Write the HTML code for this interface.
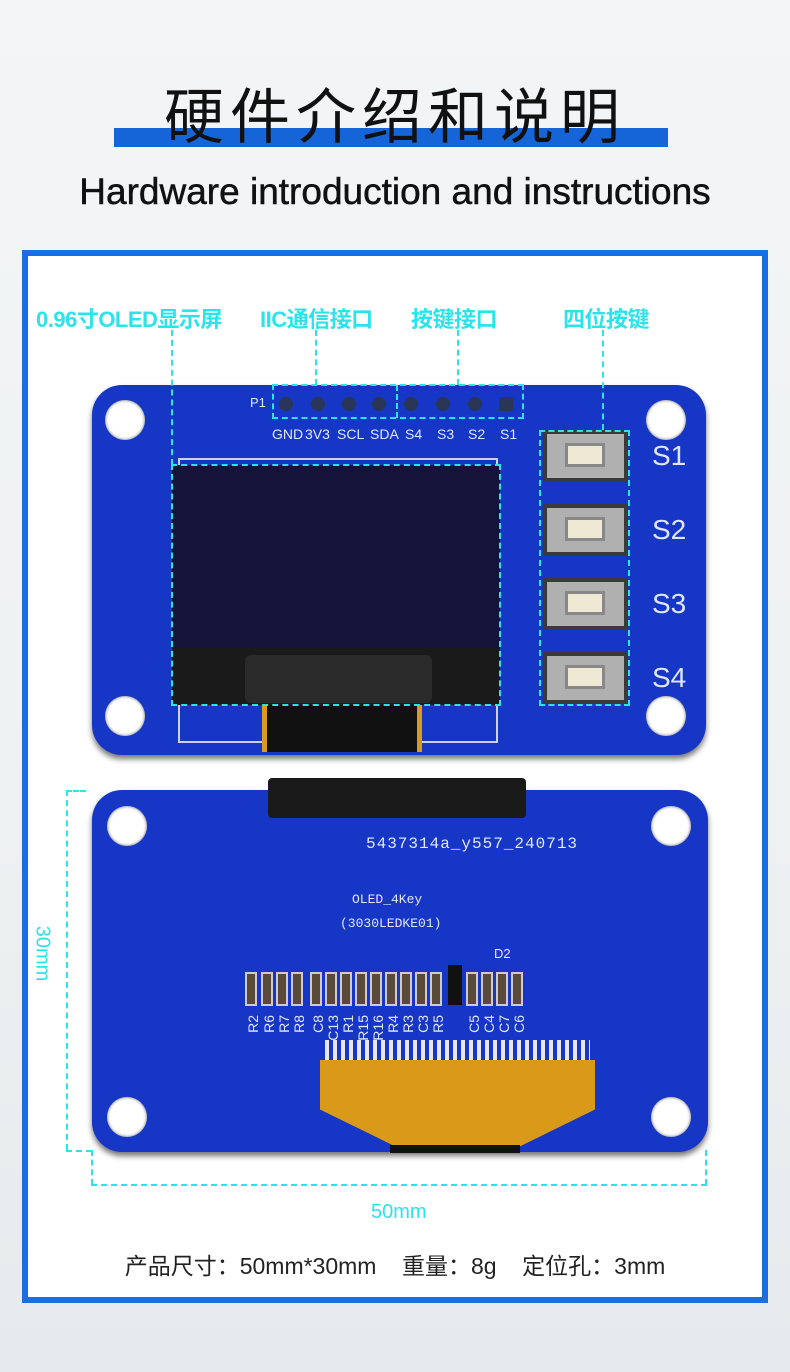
<!DOCTYPE html>
<html><head><meta charset="utf-8"><style>
*{margin:0;padding:0;box-sizing:border-box}
body{width:790px;height:1372px;position:relative;overflow:hidden;background:linear-gradient(180deg,#f3f5f6 0%,#eef1f2 60%,#e6eaec 100%);font-family:"Liberation Sans","Noto Sans CJK SC",sans-serif}
.a{position:absolute}
.cy{color:#2be3ea;font-weight:bold;font-size:22px;white-space:nowrap;letter-spacing:-0.5px}
.dv{position:absolute;border-left:2px dashed #2be3ea;width:0}
.dh{position:absolute;border-top:2px dashed #2be3ea;height:0}
.db{position:absolute;border:2px dashed #2be3ea}
.hole{position:absolute;width:40px;height:40px;border-radius:50%;background:#fff;box-shadow:inset 0 0 3px #666}
.pin{position:absolute;width:14px;height:14px;border-radius:50%;background:#2a3658;top:397px}
.btn{position:absolute;left:543px;width:85px;height:52px;background:#b0b0b0;border:4px solid #3a3a3a;border-radius:3px}
.btn i{position:absolute;left:18px;top:9px;width:40px;height:24px;background:#efe8d4;border:3px solid #888}
.sl{position:absolute;left:652px;color:#dfe6ff;font-size:28px}
.pl{position:absolute;top:426px;color:#e3e8ff;font-size:14px}
.cmp{position:absolute;top:972px;width:12px;height:34px;background:#5a4a3a;border:2px solid #ccc}
.lab{position:absolute;top:1015px;color:#e3e8ff;font-size:14px;writing-mode:vertical-rl;transform:rotate(180deg)}
</style></head><body>
<div class="a" style="left:114px;top:128px;width:554px;height:19px;background:#1565d8"></div>
<div class="a" style="left:0;top:78px;width:790px;text-align:center;font-size:60px;color:#111;letter-spacing:6px;font-family:'Noto Sans CJK SC',sans-serif;line-height:70px">硬件介绍和说明</div>
<div class="a" style="left:0;top:171px;width:790px;text-align:center;font-size:37px;color:#111;-webkit-text-stroke:0.5px #111">Hardware introduction and instructions</div>
<div class="a" style="left:22px;top:250px;width:746px;height:1053px;border:6px solid #1a6fe0;background:#fff"></div>

<div class="a cy" style="left:36px;top:302px">0.96寸OLED显示屏</div>
<div class="a cy" style="left:260px;top:302px">IIC通信接口</div>
<div class="a cy" style="left:411px;top:302px">按键接口</div>
<div class="a cy" style="left:563px;top:302px">四位按键</div>

<!-- top board -->
<div class="a" style="left:92px;top:385px;width:614px;height:370px;background:#1636c6;border-radius:30px;box-shadow:0 4px 6px #777"></div>
<div class="hole" style="left:105px;top:400px"></div><div class="hole" style="left:646px;top:400px"></div>
<div class="hole" style="left:105px;top:696px"></div><div class="hole" style="left:646px;top:696px"></div>
<div class="a" style="left:178px;top:458px;width:320px;height:285px;border:2px solid #c8d2f0"></div>
<div class="a" style="left:262px;top:700px;width:160px;height:52px;background:#111;border-left:5px solid #d89a20;border-right:5px solid #d89a20"></div>
<div class="a" style="left:172px;top:465px;width:328px;height:240px;background:#14143a"></div>
<div class="a" style="left:172px;top:648px;width:328px;height:57px;background:#1a1a1a"></div>
<div class="a" style="left:245px;top:655px;width:187px;height:48px;background:#2a2a2a;border-radius:6px"></div>
<div class="a" style="left:250px;top:395px;color:#e3e8ff;font-size:13px">P1</div>
<div class="pin" style="left:279px"></div><div class="pin" style="left:311px"></div><div class="pin" style="left:342px"></div><div class="pin" style="left:372px"></div>
<div class="pin" style="left:404px"></div><div class="pin" style="left:436px"></div><div class="pin" style="left:468px"></div><div class="pin" style="left:499px;border-radius:2px"></div>
<div class="pl" style="left:272px">GND</div><div class="pl" style="left:305px">3V3</div><div class="pl" style="left:337px">SCL</div><div class="pl" style="left:370px">SDA</div>
<div class="pl" style="left:405px">S4</div><div class="pl" style="left:437px">S3</div><div class="pl" style="left:468px">S2</div><div class="pl" style="left:500px">S1</div>
<div class="btn" style="top:430px"><i></i></div><div class="btn" style="top:504px"><i></i></div>
<div class="btn" style="top:578px"><i></i></div><div class="btn" style="top:652px"><i></i></div>
<div class="sl" style="top:440px">S1</div><div class="sl" style="top:514px">S2</div><div class="sl" style="top:588px">S3</div><div class="sl" style="top:662px">S4</div>

<div class="dv" style="left:171px;top:330px;height:135px"></div>
<div class="db" style="left:171px;top:464px;width:330px;height:242px"></div>
<div class="dv" style="left:315px;top:330px;height:55px"></div>
<div class="dv" style="left:457px;top:330px;height:55px"></div>
<div class="dv" style="left:602px;top:330px;height:100px"></div>
<div class="db" style="left:272px;top:384px;width:252px;height:35px"></div>
<div class="dv" style="left:396px;top:385px;height:33px"></div>
<div class="db" style="left:539px;top:430px;width:91px;height:276px"></div>

<!-- bottom board -->
<div class="a" style="left:92px;top:790px;width:616px;height:362px;background:#1636c6;border-radius:30px;box-shadow:0 4px 6px #777"></div>
<div class="a" style="left:268px;top:778px;width:258px;height:40px;background:#1a1a1a;border-radius:4px"></div>
<div class="hole" style="left:107px;top:806px"></div><div class="hole" style="left:651px;top:806px"></div>
<div class="hole" style="left:107px;top:1097px"></div><div class="hole" style="left:651px;top:1097px"></div>
<div class="a" style="left:366px;top:835px;color:#e3e8ff;font-size:16px;font-family:'Liberation Mono',monospace;letter-spacing:1px">5437314a_y557_240713</div>
<div class="a" style="left:352px;top:892px;color:#e3e8ff;font-size:13px;font-family:'Liberation Mono',monospace">OLED_4Key</div>
<div class="a" style="left:340px;top:916px;color:#e3e8ff;font-size:13px;font-family:'Liberation Mono',monospace">(3030LEDKE01)</div>
<div class="a" style="left:494px;top:946px;color:#e3e8ff;font-size:13px">D2</div>
<div class="cmp" style="left:245px"></div><div class="cmp" style="left:261px"></div><div class="cmp" style="left:276px"></div><div class="cmp" style="left:291px"></div>
<div class="cmp" style="left:310px"></div><div class="cmp" style="left:325px"></div><div class="cmp" style="left:340px"></div><div class="cmp" style="left:355px"></div>
<div class="cmp" style="left:370px"></div><div class="cmp" style="left:385px"></div><div class="cmp" style="left:400px"></div><div class="cmp" style="left:415px"></div>
<div class="cmp" style="left:430px"></div><div class="a" style="left:448px;top:965px;width:14px;height:40px;background:#111"></div>
<div class="cmp" style="left:466px"></div><div class="cmp" style="left:481px"></div><div class="cmp" style="left:496px"></div><div class="cmp" style="left:511px"></div>
<div class="lab" style="left:245px">R2</div><div class="lab" style="left:261px">R6</div><div class="lab" style="left:276px">R7</div><div class="lab" style="left:291px">R8</div>
<div class="lab" style="left:310px">C8</div><div class="lab" style="left:325px">C13</div><div class="lab" style="left:340px">R1</div><div class="lab" style="left:355px">R15</div>
<div class="lab" style="left:370px">R16</div><div class="lab" style="left:385px">R4</div><div class="lab" style="left:400px">R3</div><div class="lab" style="left:415px">C3</div>
<div class="lab" style="left:430px">R5</div><div class="lab" style="left:466px">C5</div><div class="lab" style="left:481px">C4</div><div class="lab" style="left:496px">C7</div><div class="lab" style="left:511px">C6</div>
<div class="a" style="left:325px;top:1040px;width:265px;height:60px;background:repeating-linear-gradient(90deg,#e8e8e8 0 4px,#1636c6 4px 8px)"></div>
<div class="a" style="left:320px;top:1060px;width:275px;height:90px;background:#d99a1a;clip-path:polygon(0 0,100% 0,100% 55%,70% 100%,30% 100%,0 55%)"></div>
<div class="a" style="left:390px;top:1145px;width:130px;height:8px;background:#111"></div>

<div class="dh" style="left:66px;top:790px;width:20px"></div>
<div class="dv" style="left:66px;top:790px;height:360px"></div>
<div class="dh" style="left:66px;top:1150px;width:26px"></div>
<div class="dv" style="left:91px;top:1150px;height:35px"></div>
<div class="dh" style="left:91px;top:1184px;width:616px"></div>
<div class="dv" style="left:705px;top:1150px;height:35px"></div>
<div class="a" style="left:14px;top:942px;color:#2be3ea;font-size:20px;transform:rotate(90deg)">30mm</div>
<div class="a" style="left:371px;top:1201px;color:#2be3ea;font-size:20px">50mm</div>
<div class="a" style="left:0;top:1247px;width:790px;text-align:center;font-size:23px;color:#222;white-space:pre">产品尺寸：50mm*30mm    重量：8g    定位孔：3mm</div>
</body></html>
